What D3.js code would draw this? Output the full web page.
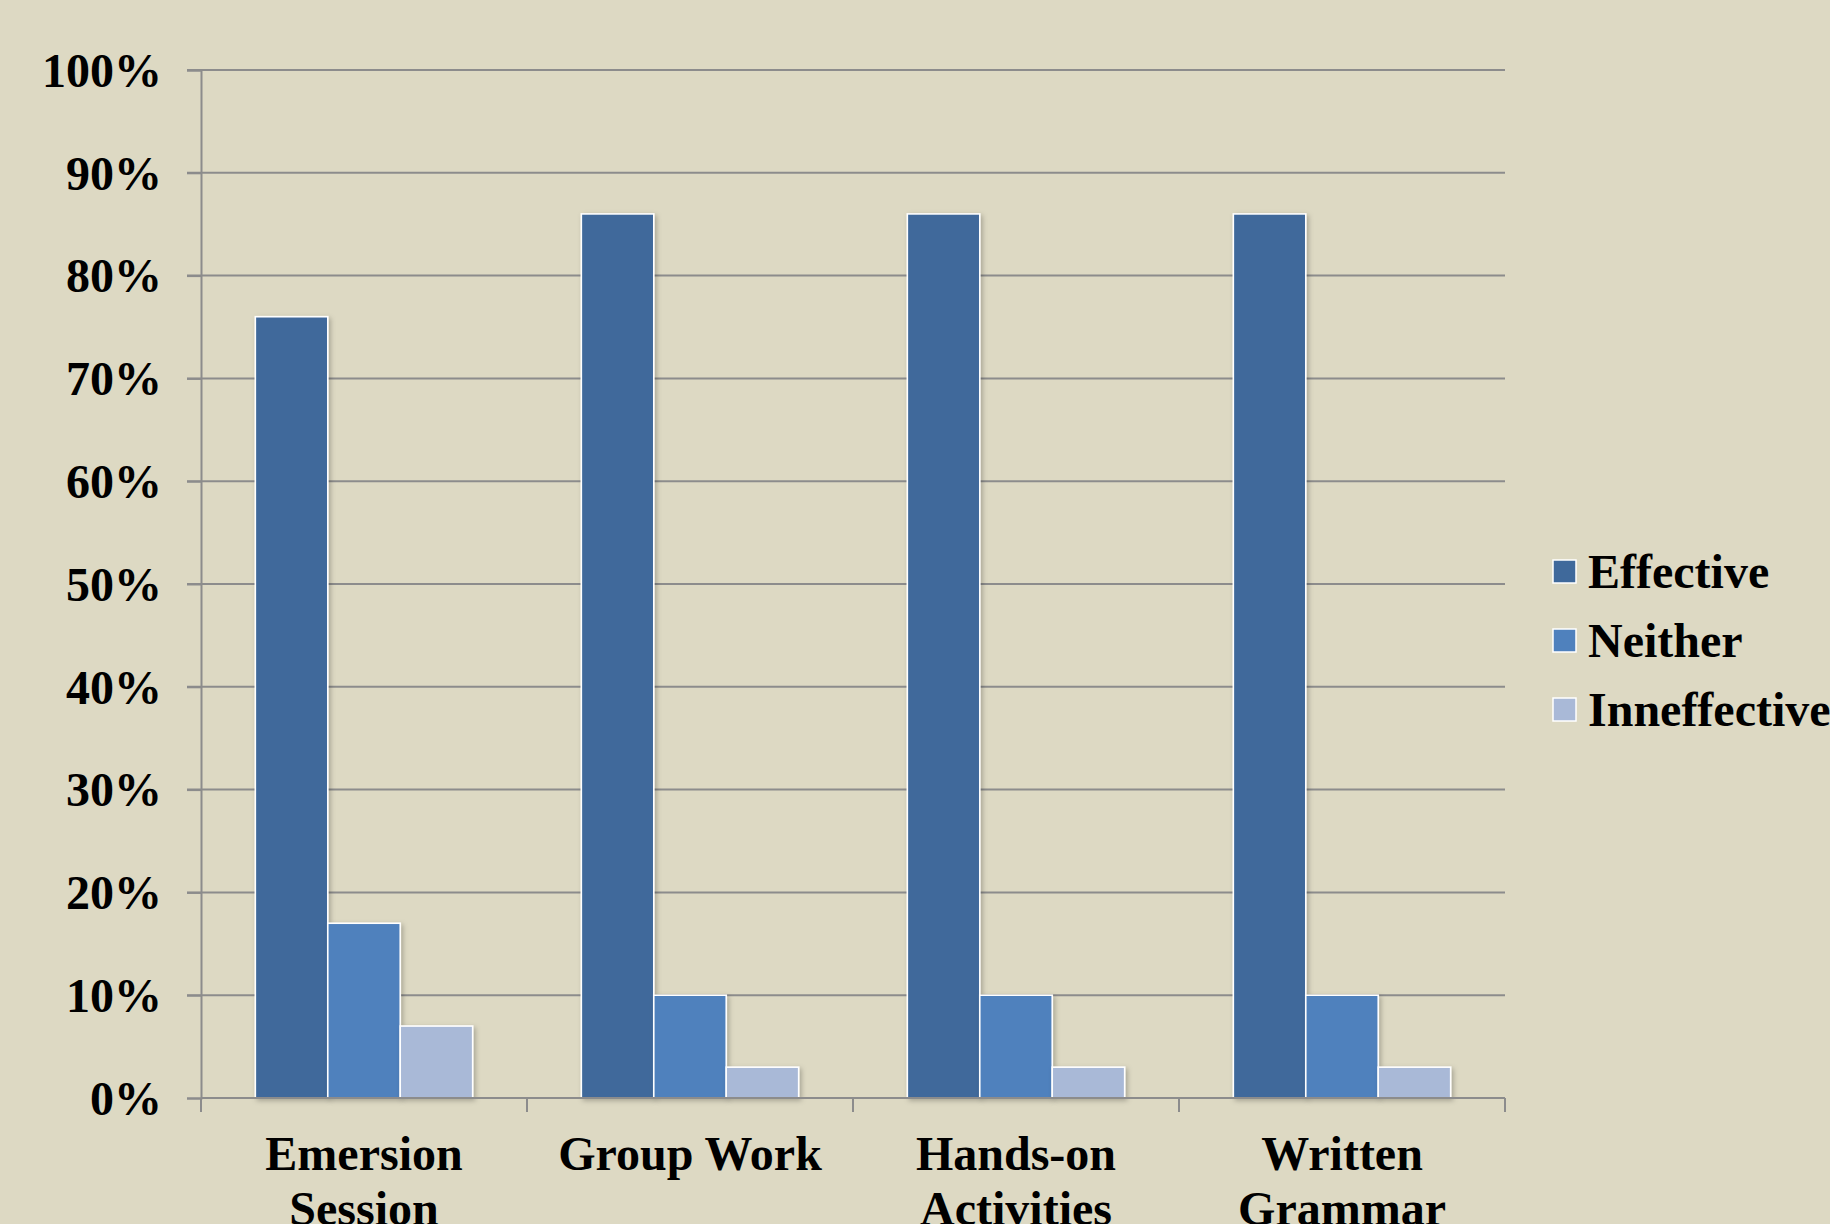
<!DOCTYPE html>
<html>
<head>
<meta charset="utf-8">
<script src="https://cdn.jsdelivr.net/npm/d3@7"></script>
<style>
  html, body { margin: 0; padding: 0; background: #DDD9C3; overflow: hidden; }
  svg { display: block; }
  text { font-family: "Liberation Serif", "Times New Roman", serif; font-weight: bold; fill: #000; }
</style>
</head>
<body>
<div id="chart"></div>
<script>
const width = 1830, height = 1224;

// data
const categories = [["Emersion", "Session"], ["Group Work"], ["Hands-on", "Activities"], ["Written", "Grammar"]];
const series = ["Effective", "Neither", "Inneffective"];
const effective = [76, 86, 86, 86];
const neither = [17, 10, 10, 10];
const inneffective = [7, 3, 3, 3];
const yTicks = [0, 10, 20, 30, 40, 50, 60, 70, 80, 90, 100];

const colors = {Effective: '#3F699B', Neither: '#4F81BD', Inneffective: '#A9B9D7'};
const margin = {top: 70, right: 325, bottom: 126, left: 201};
const fontSize = 48;

const rows = categories.map((c, i) => ({
  key: c.join(' '),
  lines: c,
  values: {Effective: effective[i], Neither: neither[i], Inneffective: inneffective[i]}
}));

const svg = d3.select('#chart').append('svg')
  .attr('width', width)
  .attr('height', height);

svg.append('rect').attr('width', width).attr('height', height).attr('fill', '#DDD9C3');

const defs = svg.append('defs');
const shadow = defs.append('filter').attr('id', 'barshadow')
  .attr('x', '-20%').attr('y', '-20%').attr('width', '150%').attr('height', '150%');
shadow.append('feDropShadow')
  .attr('dx', 2).attr('dy', 2).attr('stdDeviation', 2.5)
  .attr('flood-color', '#000').attr('flood-opacity', 0.25);

const x0 = d3.scaleBand()
  .domain(rows.map(d => d.key))
  .range([margin.left, width - margin.right])
  .paddingInner(0).paddingOuter(0);

// Excel style gap width 150%
const x1 = d3.scaleBand()
  .domain(series)
  .range([0, x0.bandwidth()])
  .paddingInner(0).paddingOuter(0.75);

const y = d3.scaleLinear()
  .domain([0, 100])
  .range([height - margin.bottom, margin.top]);

// gridlines
svg.append('g')
  .selectAll('line')
  .data(yTicks.filter(t => t > 0))
  .join('line')
  .attr('x1', margin.left - 14)
  .attr('x2', width - margin.right)
  .attr('y1', d => y(d))
  .attr('y2', d => y(d))
  .attr('stroke', '#8C8C8C')
  .attr('stroke-width', 2);

// y axis
const yAxis = svg.append('g')
  .attr('transform', `translate(${margin.left},0)`)
  .call(d3.axisLeft(y).tickValues(yTicks).tickSize(14).tickFormat(d => d + '%'));
yAxis.select('.domain').attr('stroke', '#8C8C8C').attr('stroke-width', 2);
yAxis.selectAll('.tick line').attr('stroke', '#8C8C8C').attr('stroke-width', 2);
yAxis.selectAll('.tick text')
  .attr('x', -39)
  .attr('dy', '0.34em')
  .style('font-size', fontSize + 'px')
  .style('font-family', '"Liberation Serif", "Times New Roman", serif')
  .style('font-weight', 'bold')
  .attr('fill', '#000');

// bars
const groups = svg.append('g')
  .selectAll('g')
  .data(rows)
  .join('g')
  .attr('transform', d => `translate(${x0(d.key)},0)`);

groups.selectAll('rect')
  .data(d => series.map(s => ({s, v: d.values[s]})))
  .join('rect')
  .attr('x', d => x1(d.s))
  .attr('y', d => y(d.v))
  .attr('width', x1.bandwidth())
  .attr('height', d => y(0) - y(d.v))
  .attr('fill', d => colors[d.s])
  .attr('stroke', '#fff')
  .attr('stroke-width', 1.6)
  .attr('filter', 'url(#barshadow)');

// x axis
const xAxis = svg.append('g')
  .attr('transform', `translate(0,${y(0)})`);
xAxis.append('line')
  .attr('x1', margin.left).attr('x2', width - margin.right)
  .attr('stroke', '#8C8C8C').attr('stroke-width', 2);
const bounds = rows.map(d => x0(d.key)).concat([x0.range()[1]]);
xAxis.selectAll('line.tick')
  .data(bounds)
  .join('line')
  .attr('class', 'tick')
  .attr('x1', d => d).attr('x2', d => d)
  .attr('y1', 0).attr('y2', 14)
  .attr('stroke', '#8C8C8C').attr('stroke-width', 2);

// second lines run off the bottom edge, as in the source image
const labels = xAxis.selectAll('text.cat')
  .data(rows)
  .join('text')
  .attr('class', 'cat')
  .attr('text-anchor', 'middle')
  .style('font-size', fontSize + 'px')
  .attr('transform', d => `translate(${x0(d.key) + x0.bandwidth() / 2},72)`);
labels.selectAll('tspan')
  .data(d => d.lines)
  .join('tspan')
  .attr('x', 0)
  .attr('y', (d, i) => i * 55)
  .text(d => d);

// legend
const legend = svg.append('g')
  .attr('transform', 'translate(1553,572)')
  .selectAll('g')
  .data(series)
  .join('g')
  .attr('transform', (d, i) => `translate(0,${i * 69})`);
legend.append('rect')
  .attr('x', 0).attr('y', -12)
  .attr('width', 23).attr('height', 23)
  .attr('fill', d => colors[d])
  .attr('stroke', '#fff').attr('stroke-width', 1.5);
legend.append('text')
  .attr('x', 35)
  .attr('dy', '0.34em')
  .style('font-size', fontSize + 'px')
  .text(d => d);
</script>
</body>
</html>
